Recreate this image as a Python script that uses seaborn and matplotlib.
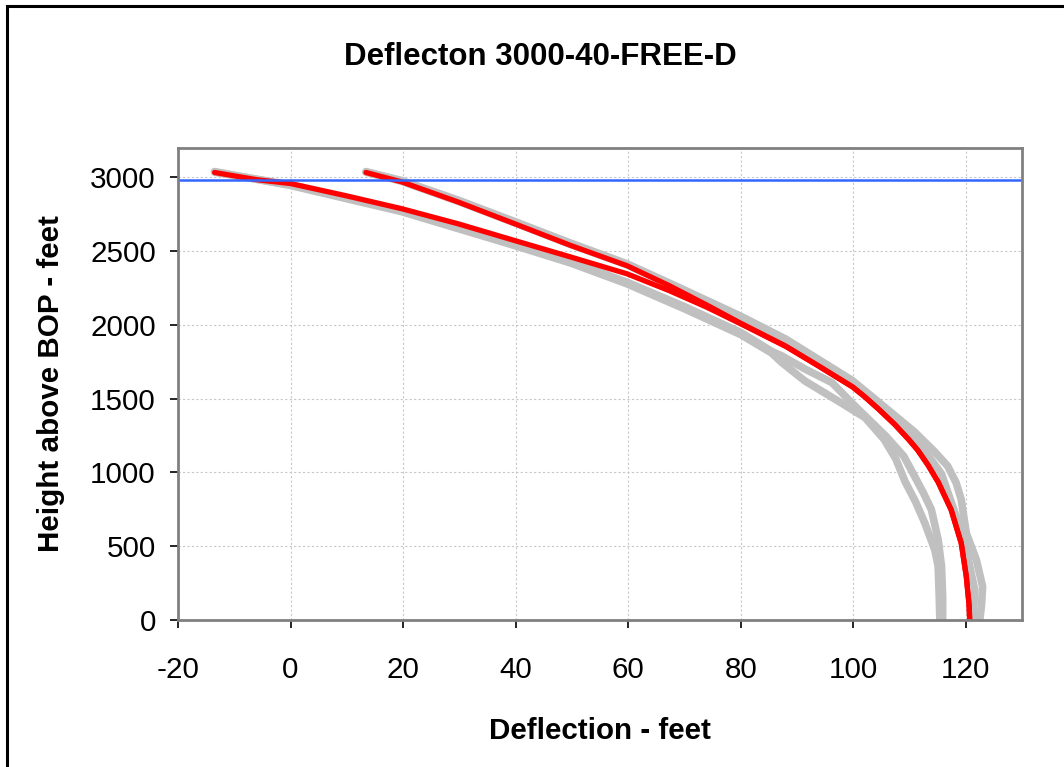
import matplotlib.pyplot as plt
import seaborn as sns
from matplotlib.patches import Rectangle

# red curves (design deflection), x = deflection ft, y = height above BOP ft
red_a_x = [-13.5, -6, 0, 9.9, 19.7, 29.7, 39.8, 49.8, 59.8, 67.3, 74, 80, 88, 93.8, 99.9, 102, 104.5,
           107.4, 109.9, 111.5, 113.3, 115.1, 117.4, 119.2, 120.1, 120.6, 120.7]
red_a_y = [3034, 2985, 2959, 2876, 2789, 2687, 2573, 2461, 2347, 2233, 2120, 2008, 1855, 1723, 1580, 1515, 1430,
           1325, 1222, 1150, 1050, 935, 748, 521, 295, 100, 0]
red_b_x = [13.4, 19.7, 29.7, 39.8, 49.8, 59.8, 67.3, 74, 80, 88, 93.8, 99.9, 102, 104.5,
           107.4, 109.9, 111.5, 113.3, 115.1, 117.4, 119.2, 120.1, 120.6, 120.7]
red_b_y = [3034, 2971, 2835, 2687, 2539, 2402, 2267, 2135, 2012, 1857, 1723, 1580, 1515, 1430,
           1325, 1222, 1150, 1050, 935, 748, 521, 295, 100, 0]

# gray curves (individual runs)
gray_l1_x = [-13.5, 0, 19.7, 39.8, 49.8, 59.8, 70, 80, 85.5, 87.3, 91.4, 97.3, 102.1, 105.5,
             107.6, 109.2, 111.1, 112.7, 114.5, 115.1, 115.3, 115.4]
gray_l1_y = [3040, 2946, 2769, 2539, 2420, 2279, 2110, 1935, 1810, 1746, 1621, 1485, 1372, 1224,
             1090, 940, 800, 660, 476, 363, 150, 0]
gray_l2_x = [-13.5, 0, 19.7, 39.8, 49.8, 59.8, 70, 80, 85.5, 87.3, 91.5, 96.2, 100.3, 105.8, 109, 110.9,
             112.5, 113.9, 115.1, 115.7, 115.9, 115.9]
gray_l2_y = [3036, 2950, 2775, 2548, 2430, 2290, 2125, 1950, 1822, 1791, 1700, 1610, 1451, 1247, 1110, 975,
             860, 748, 544, 363, 150, 0]
gray_r1_x = [13.4, 19.7, 29.7, 39.8, 49.8, 59.8, 67.3, 80, 88, 99.8, 103.8, 110.9, 114.5, 116.8, 118.3,
             119.2, 120.1, 121.9, 123.0, 122.8, 122.5]
gray_r1_y = [3040, 2980, 2848, 2702, 2555, 2415, 2285, 2060, 1905, 1625, 1500, 1275, 1140, 1043, 930,
             816, 590, 406, 227, 100, 0]
gray_r2_x = [13.4, 19.7, 29.7, 39.8, 49.8, 59.8, 67.3, 80, 88, 99.8, 103.5, 108, 112.5, 115.7, 118.3,
             120.1, 121.6, 121.3]
gray_r2_y = [3036, 2975, 2840, 2693, 2546, 2408, 2275, 2045, 1885, 1610, 1490, 1345, 1160, 990, 703,
             476, 204, 0]

target_height = 2982

xticks = [-20, 0, 20, 40, 60, 80, 100, 120]
yticks = [0, 500, 1000, 1500, 2000, 2500, 3000]

sns.set_theme(style="white")
plt.rcParams['font.family'] = ['Liberation Sans', 'DejaVu Sans']
plt.rcParams['axes.unicode_minus'] = False
plt.rcParams['text.color'] = 'black'
plt.rcParams['axes.labelcolor'] = 'black'
plt.rcParams['xtick.color'] = 'black'
plt.rcParams['ytick.color'] = 'black'

fig = plt.figure(figsize=(10.64, 7.67), dpi=100)
ax = fig.add_axes([178/1064, 1 - 620/767, (1022-178)/1064, (620-148)/767])

grays = [(gray_l1_x, gray_l1_y), (gray_l2_x, gray_l2_y), (gray_r1_x, gray_r1_y), (gray_r2_x, gray_r2_y)]
for gx, gy in grays:
    sns.lineplot(x=gx, y=gy, sort=False, estimator=None, color='#c0c0c0', linewidth=5.5, ax=ax)

for rx, ry in [(red_a_x, red_a_y), (red_b_x, red_b_y)]:
    sns.lineplot(x=rx, y=ry, sort=False, estimator=None, color='#ff0000', linewidth=3.8, ax=ax)

ax.axhline(target_height, color='#3366ff', linewidth=1.8)

ax.set_xlim(-20, 130)
ax.set_ylim(0, 3200)
ax.set_xticks(xticks)
ax.set_yticks(yticks)
ax.tick_params(axis='both', labelsize=21.3, direction='out', length=6, width=1.2, color='black')
ax.tick_params(axis='x', bottom=True, pad=20)
ax.tick_params(axis='y', left=True, pad=10)
ax.grid(True, color='#c8c8c8', linestyle=(0, (2, 2)), linewidth=0.8)
for s in ax.spines.values():
    s.set_color('#808080')
    s.set_linewidth(2)

ax.set_xlabel('Deflection - feet', fontsize=21.3, fontweight='bold', labelpad=24)
ax.set_ylabel('Height above BOP - feet', fontsize=21.3, fontweight='bold', labelpad=18)
fig.text(540/1064, 1 - 57/767, 'Deflecton 3000-40-FREE-D', fontsize=22.5, fontweight='bold',
         ha='center', va='center')

# outer chart border
fig.patches.append(Rectangle((7/1064, -0.1), 1.2, 1.1 - 6/767, transform=fig.transFigure,
                             fill=False, edgecolor='black', linewidth=2.2))

fig.savefig('out.png', dpi=100)
